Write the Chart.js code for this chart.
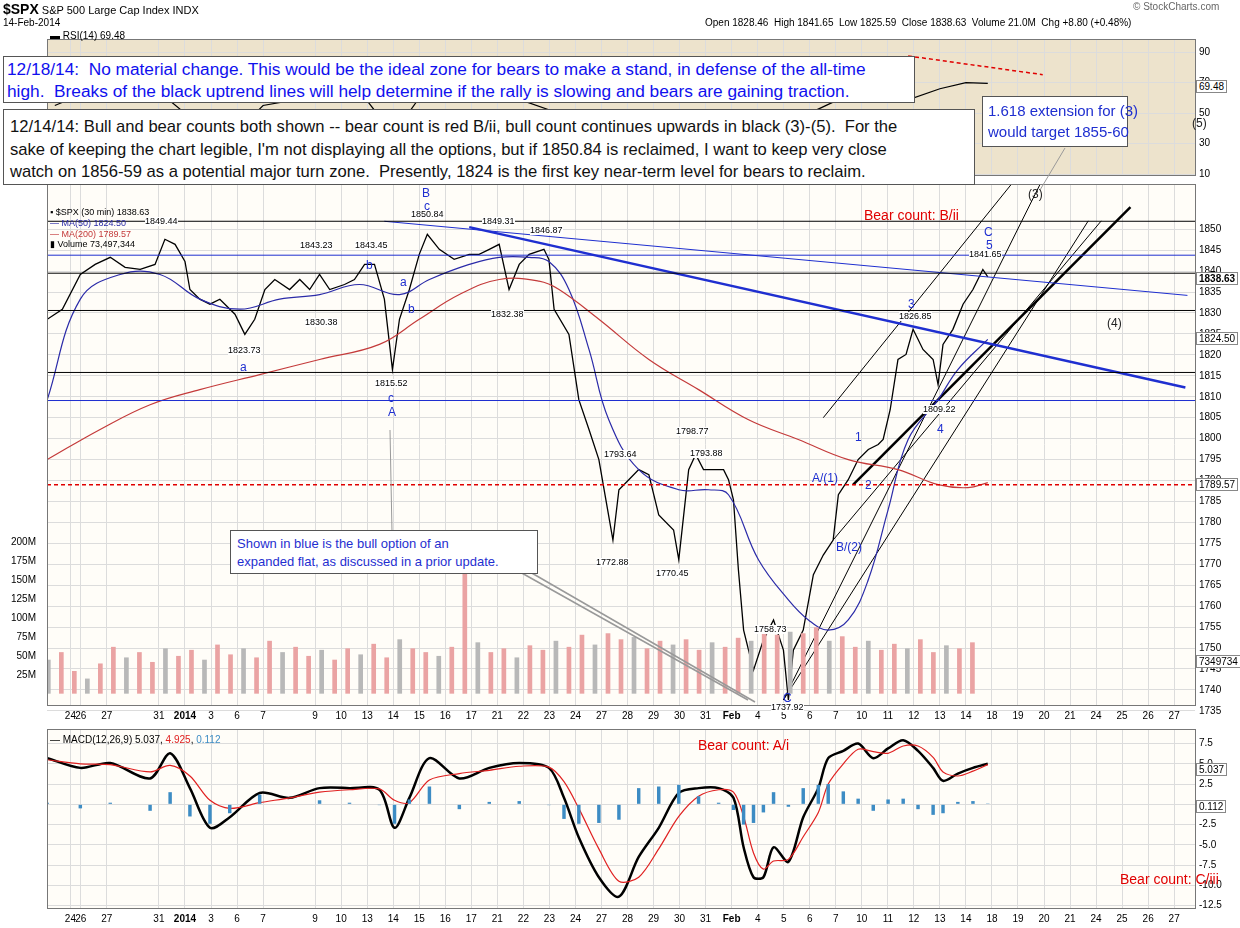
<!DOCTYPE html>
<html>
<head>
<meta charset="utf-8">
<script src="https://cdn.jsdelivr.net/npm/chart.js@4"></script>
<style>
  body { margin:0; width:1240px; height:928px; background:#fff; position:relative; overflow:hidden; font-family:"Liberation Sans", Arial, sans-serif; }
  canvas { position:absolute; left:0; }
  .t { position:absolute; white-space:nowrap; font-size:10px; color:#000; line-height:1; }
  .box { position:absolute; background:#fff; border:1px solid #555; white-space:nowrap; }
  .val { position:absolute; left:1196px; font-size:10px; background:#fff; border:1px solid #888; padding:0 2px; line-height:11px; }
</style>
</head>
<body>
<canvas id="rsi" width="1240" height="156" style="top:29px"></canvas>
<canvas id="main" width="1240" height="551" style="top:174px"></canvas>
<canvas id="macd" width="1240" height="209" style="top:719px"></canvas>
<svg width="1240" height="928" style="position:absolute;left:0;top:0;pointer-events:none">
  <line x1="520" y1="572" x2="748" y2="700" stroke="#999" stroke-width="1.5"/>
  <line x1="530" y1="572" x2="755" y2="702" stroke="#999" stroke-width="1.5"/>
  <line x1="390" y1="430" x2="392" y2="532" stroke="#999" stroke-width="1"/>
  <line x1="1065" y1="148" x2="1040" y2="190" stroke="#999" stroke-width="1"/>
</svg>
<script>
// ---- time axis (trading days, Jan 2 2014 = 0)
const tickDays   = [-4.4,-4,-3,-1,0,1,2,3,5,6,7,8,9,10,11,12,13,14,15,16,17,18,19,20,21,22,23,24,25,26,27,28,29,30,31,32,33,34,35,36,37,38];
const tickLabels = ['24','26','27','31','2014','3','6','7','9','10','13','14','15','16','17','21','22','23','24','27','28','29','30','31','Feb','4','5','6','7','10','11','12','13','14','18','19','20','21','24','25','26','27'];

// ---- price ($SPX 30 min)
const priceDays = [-5.29,-4.71,-4.02,-3.45,-2.87,-2.30,-1.72,-1.15,-0.77,-0.38,0,0.19,0.57,0.96,1.34,1.92,2.30,2.68,3.07,3.45,4.02,4.41,4.79,5.17,5.56,6.13,6.51,6.90,7.28,7.66,7.97,8.24,8.62,9.00,9.31,9.77,10.34,10.92,11.30,11.69,12.07,12.45,12.84,13.22,13.79,13.98,14.18,14.75,15.13,15.52,15.90,16.17,16.44,16.67,17.05,17.43,17.82,18.20,18.77,18.97,19.35,19.62,19.92,20.31,20.69,20.88,21.07,21.26,21.46,21.84,22.22,22.61,22.99,23.18,23.37,23.75,24.14,24.52,24.90,25.10,25.48,25.86,26.25,26.63,26.82,27.09,27.39,27.70,27.97,28.35,28.74,28.93,29.12,29.50,29.89,30.27,30.65,30.84];
const priceVals = [1828.5,1830.9,1839.2,1841.6,1843.3,1840.9,1840.4,1841.6,1847.6,1846.4,1842.3,1835.6,1833.3,1832.1,1833.3,1829.7,1824.9,1828.5,1835.6,1838.0,1835.6,1838.0,1835.6,1839.2,1835.6,1836.8,1838.0,1841.6,1841.6,1833.3,1816.5,1828.5,1835.6,1844.0,1848.8,1845.2,1842.8,1844.0,1844.0,1845.2,1846.4,1835.6,1841.6,1844.0,1845.2,1842.8,1830.9,1824.9,1809.3,1802.2,1795.0,1785.4,1775.8,1787.8,1790.2,1792.6,1791.4,1781.8,1778.2,1771.1,1792.6,1796.2,1792.6,1792.6,1792.6,1790.2,1785.4,1768.7,1754.3,1744.7,1751.9,1756.7,1749.5,1737.6,1749.5,1754.3,1767.5,1772.2,1775.8,1786.6,1790.2,1795.0,1797.4,1798.6,1799.8,1806.9,1818.9,1820.1,1826.1,1821.3,1818.9,1812.9,1822.5,1826.1,1832.1,1835.6,1840.4,1838.6];

const ma50Days = [-5.29,-4.02,-2.49,-0.96,0.57,2.11,3.64,5.17,6.70,8.24,9.39,10.92,12.07,13.22,13.98,14.75,15.52,16.28,17.43,18.97,20.11,20.88,22.03,23.18,23.95,24.71,25.48,26.25,27.01,27.78,28.93,29.69,30.84];
const ma50Vals = [1809.3,1833.3,1839.2,1839.2,1833.3,1830.9,1833.3,1834.4,1836.8,1834.4,1838.0,1841.6,1843.3,1843.3,1842.3,1835.6,1821.3,1804.5,1792.6,1787.8,1787.8,1786.6,1771.1,1761.5,1756.7,1754.3,1756.7,1766.3,1783.0,1799.8,1809.3,1816.5,1823.7];
const ma200Days = [-5.29,-3.26,-1.34,0.57,2.87,5.17,7.47,9.00,10.54,12.07,13.60,14.37,15.90,17.82,19.73,21.65,23.56,25.48,27.39,28.93,30.08,30.84];
const ma200Vals = [1795.0,1802.2,1808.1,1811.7,1815.3,1818.9,1822.5,1828.5,1834.4,1838.0,1837.6,1835.6,1828.5,1818.9,1811.7,1804.5,1799.8,1795.0,1792.6,1789.0,1788.3,1789.5];

// volume, millions, per half day
const volDays = [];
for (let d = -5.25; d <= 30.8; d += 0.5) volDays.push(d);
const volVals = [45,55,30,20,40,62,48,55,42,60,50,58,45,65,52,60,48,70,55,62,50,58,45,60,52,66,48,72,60,55,50,62,205,68,55,60,48,64,58,70,62,78,65,80,72,75,60,70,65,72,58,68,62,74,70,85,78,82,80,88,70,76,62,70,58,66,60,72,55,64,60,68];

// RSI(14)
const rsiDays = [-5,-4,-3,-2,-1,0,1,2,3,4,5,6,7,8,9,10,11,12,13,14,15,16,17,18,19,20,21,22,23,24,25,26,27,28,29,30,30.84];
const rsiVals = [55,62,66,60,64,50,45,38,55,58,60,62,58,36,60,68,62,64,58,52,30,25,38,35,52,45,28,22,35,50,58,64,72,60,66,70,69.5];
const rsiResDays = [27.78,32.95];
const rsiResVals = [87.5,75.2];

// MACD(12,26,9)
const macdDays = [-5.29,-4.02,-2.87,-1.34,-0.57,0.19,0.96,1.72,2.87,4.02,5.17,6.32,7.47,8.05,8.62,9.39,10.54,11.69,12.84,13.98,14.56,15.13,15.90,16.67,17.43,18.20,18.97,19.73,20.50,21.07,21.46,21.84,22.22,22.61,23.18,23.75,24.33,24.71,25.29,25.86,26.44,27.01,27.59,28.16,28.74,29.12,29.69,30.27,30.84];
const macdVals = [5.7,4.5,5.1,3.2,6.3,2.0,-2.9,-1.6,1.4,0.8,2.0,2.0,1.8,-2.9,0.8,5.7,3.2,4.5,5.1,4.5,0.8,-4.1,-9.0,-11.4,-6.5,-2.9,1.4,2.0,2.0,0.8,-5.3,-9.0,-9.0,-5.3,-7.1,-1.6,2.0,5.7,6.6,7.5,5.7,6.9,7.9,6.6,4.5,2.9,3.8,4.5,5.0];
const signalVals = [5.5,5.0,4.9,4.0,4.8,3.5,0.5,-0.5,0.2,0.8,1.5,1.8,1.9,0.5,0.2,3.0,3.8,4.2,4.7,4.6,2.8,-0.5,-5.5,-9.5,-9.0,-5.5,-1.5,1.0,1.8,1.5,-1.5,-6.0,-8.0,-7.0,-6.8,-4.0,-1.0,2.5,5.0,6.8,6.5,6.3,7.2,7.2,5.8,4.0,3.5,4.1,4.9];
const histVals = [0.2,-0.5,0.2,-0.8,1.5,-1.5,-2.4,-1.1,1.2,0,0.5,0.2,-0.1,-2.4,0.6,2.2,-0.6,0.3,0.4,-0.1,-1.8,-2.4,-2.3,-1.9,2.0,2.2,2.4,1.0,0.2,-0.7,-2.5,-2.3,-1.0,1.5,-0.3,2.0,2.4,2.5,1.6,0.7,-0.8,0.6,0.7,-0.6,-1.3,-1.1,0.3,0.4,0.1];

// levels and trend lines (price units)
const blackLevels = [1851.9,1839.5,1830.6,1815.8];
const blueLevels = [1843.8,1809.1];
const redLevel = 1789.0;
const trendLines = [
  { a:[7.66,1851.9],  b:[38.51,1834.2], c:'#1f2fd0', w:1 },
  { a:[10.92,1850.5], b:[38.43,1812.2], c:'#1f2fd0', w:2.5 },
  { a:[25.67,1789.0], b:[36.32,1855.3], c:'#000', w:2.5 },
  { a:[24.52,1805.0], b:[33.14,1871.5], c:'#000', w:1 },
  { a:[22.99,1737.6], b:[32.95,1862.0], c:'#000', w:1 },
  { a:[22.99,1737.6], b:[34.70,1852.0], c:'#000', w:1 },
  { a:[24.90,1775.8], b:[35.20,1852.0], c:'#000', w:1 }
];

const XMIN = -5.3, XMAX = 38.8;
const pts = (xs, ys) => xs.map((x, i) => ({ x, y: ys[i] }));
const flat = v => [{ x: XMIN, y: v }, { x: XMAX, y: v }];

const bg = color => ({
  id: 'bg',
  beforeDraw(c) {
    const a = c.chartArea, ctx = c.ctx;
    ctx.save();
    ctx.fillStyle = color;
    ctx.fillRect(a.left, a.top, a.width, a.height);
    ctx.restore();
  },
  afterDraw(c) {
    const a = c.chartArea, ctx = c.ctx;
    ctx.save();
    ctx.strokeStyle = '#777';
    ctx.strokeRect(a.left + 0.5, a.top + 0.5, a.width, a.height);
    ctx.restore();
  }
});

function xScale(showLabels) {
  return {
    type: 'linear', min: XMIN, max: XMAX, offset: false,
    afterBuildTicks: s => { s.ticks = tickDays.map(v => ({ value: v })); },
    afterFit: s => { s.height = showLabels ? 20 : 0; },
    grid: { color: '#dcdcdc', drawTicks: false, offset: false },
    border: { display: false },
    ticks: {
      display: showLabels, autoSkip: false, maxRotation: 0, padding: 5, color: '#000',
      font: ctx => ({ size: 10, weight: (tickLabels[ctx.index] === '2014' || tickLabels[ctx.index] === 'Feb') ? 'bold' : 'normal', family: 'Liberation Sans' }),
      callback: (v, i) => tickLabels[i]
    }
  };
}
function yRight(min, max, ticks, fmt) {
  return {
    position: 'right', min, max,
    afterBuildTicks: s => { s.ticks = ticks.map(v => ({ value: v })); },
    afterFit: s => { s.width = 45; },
    grid: { color: '#dcdcdc', drawTicks: false },
    border: { display: false },
    ticks: { color: '#000', padding: 4, font: { size: 10, family: 'Liberation Sans' }, callback: fmt }
  };
}
const base = { responsive: false, animation: false, devicePixelRatio: 1,
  plugins: { legend: { display: false }, tooltip: { enabled: false } } };
const line = (data, color, width, extra) => Object.assign({ type: 'line', data, borderColor: color, borderWidth: width, pointRadius: 0, tension: 0, yAxisID: 'y' }, extra || {});

// ---- main price panel
const priceTicks = [];
for (let p = 1735; p <= 1850; p += 5) priceTicks.push(p);
const mainSets = [
  { type: 'bar', data: pts(volDays, volVals), yAxisID: 'yv',
    backgroundColor: volVals.map((v, i) => i % 3 === 0 ? '#b8b8b8' : '#eaa3a3'), barPercentage: 0.45, categoryPercentage: 1 },
  ...blackLevels.map(v => line(flat(v), '#000', 1)),
  ...blueLevels.map(v => line(flat(v), '#1f2fd0', 1)),
  line(flat(redLevel), '#e00000', 1.5, { borderDash: [4, 3] }),
  line(pts(ma200Days, ma200Vals), '#c43a3a', 1.2, { tension: 0.4 }),
  line(pts(ma50Days, ma50Vals), '#2a2aa8', 1.2, { tension: 0.4 }),
  ...trendLines.map(t => line([{ x: t.a[0], y: t.a[1] }, { x: t.b[0], y: t.b[1] }], t.c, t.w)),
  line(pts(priceDays, priceVals), '#000', 1.3)
];
new Chart(document.getElementById('main'), {
  data: { datasets: mainSets },
  options: Object.assign({}, base, {
    scales: {
      x: xScale(true),
      y: yRight(1736.4, 1860.8, priceTicks, v => v),
      yv: { position: 'left', min: -15, max: 675,
        afterBuildTicks: s => { s.ticks = [25,50,75,100,125,150,175,200].map(v => ({ value: v })); },
        afterFit: s => { s.width = 47; },
        grid: { display: false }, border: { display: false },
        ticks: { color: '#000', padding: 3, font: { size: 10 }, callback: v => v + 'M' } }
    }
  }),
  plugins: [bg('#fffdf8')]
});

// ---- RSI panel
new Chart(document.getElementById('rsi'), {
  data: { datasets: [
    line(pts(rsiDays, rsiVals), '#000', 1.2),
    line(pts(rsiResDays, rsiResVals), '#e00000', 1.5, { borderDash: [4, 3] })
  ] },
  options: Object.assign({}, base, {
    layout: { padding: { left: 47 } },
    scales: { x: xScale(false), y: yRight(9.4, 98.6, [10,30,50,70,90], v => v) }
  }),
  plugins: [bg('#ede3cc')]
});

// ---- MACD panel
new Chart(document.getElementById('macd'), {
  data: { datasets: [
    { type: 'bar', data: pts(macdDays, histVals), yAxisID: 'y', backgroundColor: '#3d8cc4', barPercentage: 0.35, categoryPercentage: 1 },
    line(pts(macdDays, signalVals), '#e02020', 1.2, { tension: 0.3 }),
    line(pts(macdDays, macdVals), '#000', 2.5, { tension: 0.3 })
  ] },
  options: Object.assign({}, base, {
    layout: { padding: { left: 47 } },
    scales: { x: xScale(true), y: yRight(-12.8, 9.3, [-12.5,-10,-7.5,-5,-2.5,0,2.5,5,7.5], v => v === 0 ? '' : v.toFixed(1)) }
  }),
  plugins: [bg('#fffdf8')]
});

// ---- text
function t(x, y, s, css) {
  const d = document.createElement('div');
  d.className = 't';
  d.style.left = x + 'px'; d.style.top = y + 'px';
  if (css) d.style.cssText += css;
  d.innerHTML = s;
  document.body.appendChild(d);
  return d;
}
t(3, 2, '<b style="font-size:14px">$SPX</b> S&amp;P 500 Large Cap Index INDX', 'font-size:11px');
t(3, 18, '14-Feb-2014');
t(1133, 2, '© StockCharts.com', 'color:#666');
t(705, 18, 'Open 1828.46&nbsp; High 1841.65&nbsp; Low 1825.59&nbsp; Close 1838.63&nbsp; Volume 21.0M&nbsp; Chg +8.80 (+0.48%)');
t(50, 31, '▬ RSI(14) 69.48');
t(50, 208, '▪ $SPX (30 min) 1838.63', 'font-size:9px');
t(50, 219, '<span style="color:#2a2aa8">— MA(50) 1824.50</span>', 'font-size:9px');
t(50, 230, '<span style="color:#c43a3a">— MA(200) 1789.57</span>', 'font-size:9px');
t(50, 240, '▮ Volume 73,497,344', 'font-size:9px');
t(50, 735, '— MACD(12,26,9) 5.037, <span style="color:#e02020">4.925</span>, <span style="color:#3d8cc4">0.112</span>');

const vals = [[80,'69.48'],[272,'<b>1838.63</b>'],[332,'1824.50'],[478,'1789.57'],[655,'7349734'],[763,'5.037'],[800,'0.112']];
vals.forEach(v => { const d = document.createElement('div'); d.className = 'val'; d.style.top = v[0] + 'px'; d.innerHTML = v[1]; document.body.appendChild(d); });

const priceLabels = [[145,217,'1849.44'],[411,210,'1850.84'],[482,217,'1849.31'],[530,226,'1846.87'],[300,241,'1843.23'],[355,241,'1843.45'],[305,318,'1830.38'],[228,346,'1823.73'],[375,379,'1815.52'],[491,310,'1832.38'],[604,450,'1793.64'],[676,427,'1798.77'],[690,449,'1793.88'],[596,558,'1772.88'],[656,569,'1770.45'],[754,625,'1758.73'],[771,703,'1737.92'],[899,312,'1826.85'],[923,405,'1809.22'],[969,250,'1841.65']];
priceLabels.forEach(p => t(p[0], p[1], p[2], 'font-size:9px;background:#fff'));

const blue = 'color:#1f2fd0;font-size:12px';
[[422,187,'B'],[424,200,'c'],[240,361,'a'],[366,259,'b'],[400,276,'a'],[408,303,'b'],[388,392,'c'],[388,406,'A'],[855,431,'1'],[812,472,'A/(1)'],[865,479,'2'],[836,541,'B/(2)'],[908,298,'3'],[937,423,'4'],[984,226,'C'],[986,239,'5'],[783,692,'C']].forEach(p => t(p[0], p[1], p[2], blue));
[[1028,188,'(3)'],[1107,317,'(4)'],[1192,117,'(5)']].forEach(p => t(p[0], p[1], p[2], 'font-size:12px;color:#222'));
t(864, 208, 'Bear count: B/ii', 'color:#e00000;font-size:14px');
t(698, 738, 'Bear count: A/i', 'color:#e00000;font-size:14px');
t(1120, 872, 'Bear count: C/iii', 'color:#e00000;font-size:14px');

function box(x, y, w, h, html, css) {
  const d = document.createElement('div');
  d.className = 'box';
  d.style.cssText += `left:${x}px;top:${y}px;width:${w}px;height:${h}px;` + css;
  d.innerHTML = html;
  document.body.appendChild(d);
}
box(3, 56, 912, 47, '12/18/14:&nbsp; No material change. This would be the ideal zone for bears to make a stand, in defense of the all-time<br>high.&nbsp; Breaks of the black uptrend lines will help determine if the rally is slowing and bears are gaining traction.',
  'color:#1010ee;font-size:17.3px;line-height:22px;padding:1px 0 0 3px;box-sizing:border-box;');
box(3, 109, 972, 76, '12/14/14: Bull and bear counts both shown -- bear count is red B/ii, bull count continues upwards in black (3)-(5).&nbsp; For the<br>sake of keeping the chart legible, I\'m not displaying all the options, but if 1850.84 is reclaimed, I want to keep very close<br>watch on 1856-59 as a potential major turn zone.&nbsp; Presently, 1824 is the first key near-term level for bears to reclaim.',
  'color:#111;font-size:16.6px;line-height:22.5px;padding:6px 0 0 6px;box-sizing:border-box;');
box(982, 96, 146, 51, '1.618 extension for (3)<br>would target 1855-60', 'color:#1f2fd0;font-size:15px;line-height:21px;padding:3px 0 0 5px;box-sizing:border-box;');
box(230, 530, 308, 44, 'Shown in blue is the bull option of an<br>expanded flat, as discussed in a prior update.', 'color:#1f2fd0;font-size:13px;line-height:18px;padding:4px 0 0 6px;box-sizing:border-box;');
</script>
</body>
</html>
